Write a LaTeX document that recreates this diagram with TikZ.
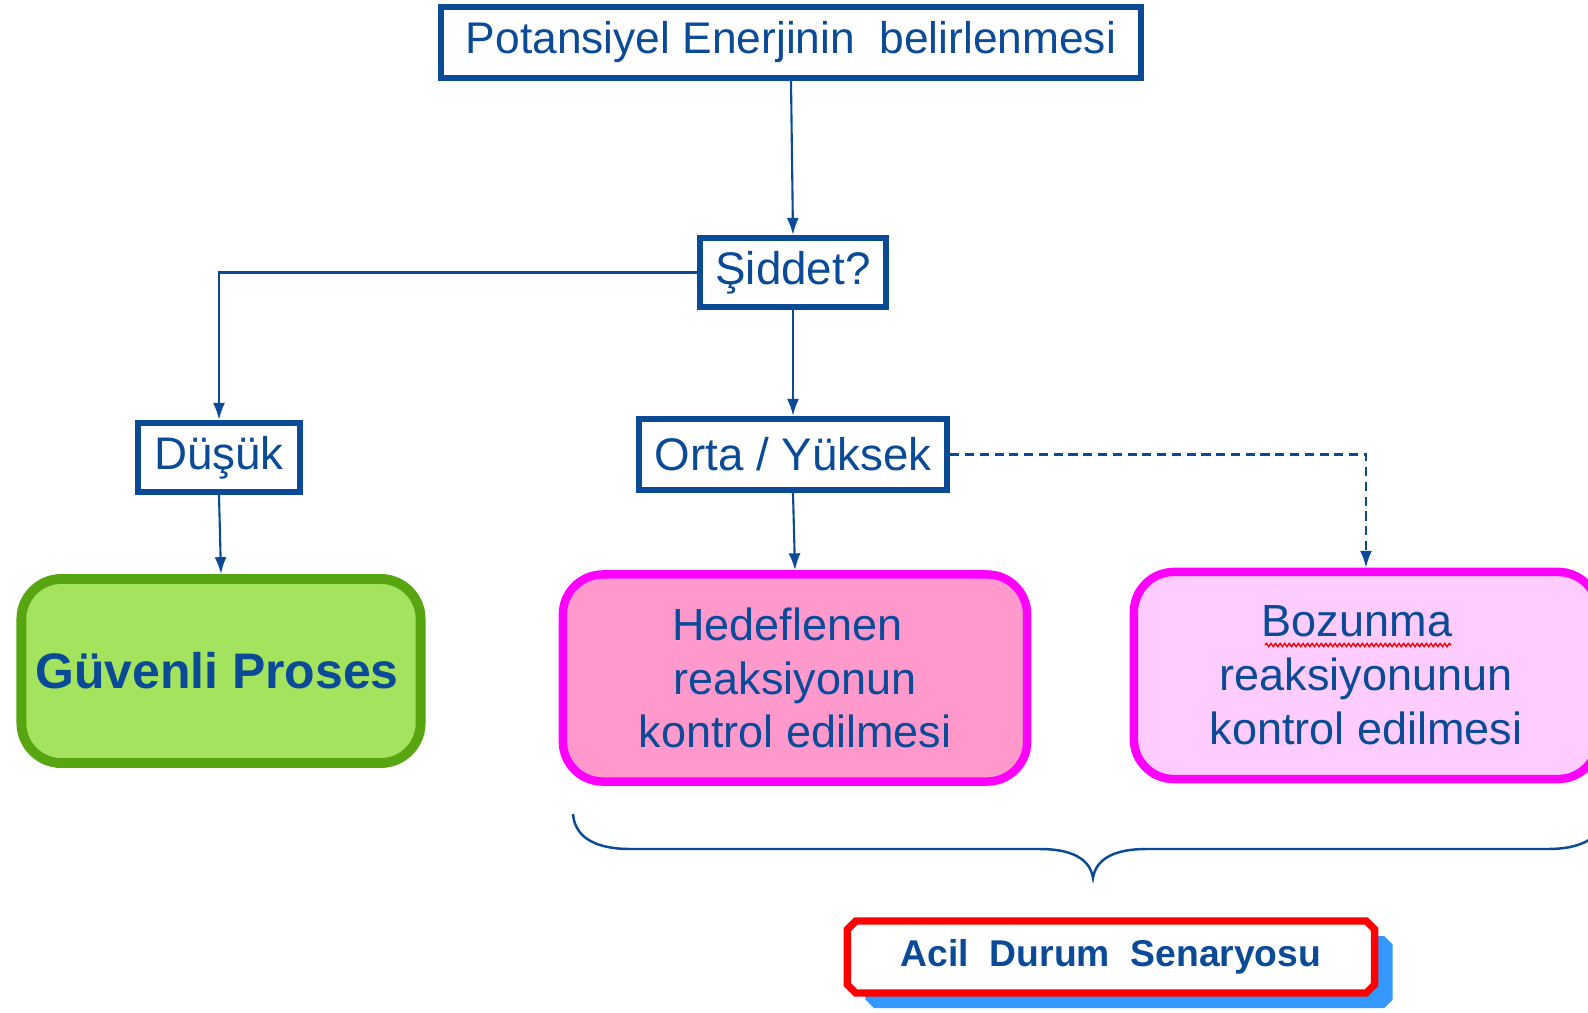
\documentclass[tikz,border=0pt]{standalone}
\usepackage{fontspec}
\setmainfont{Liberation Sans}
\usetikzlibrary{arrows.meta,shapes.misc,shadows,decorations.pathmorphing}
\definecolor{dblue}{HTML}{0A4A97}
\definecolor{gfill}{HTML}{A3E35D}
\definecolor{gline}{HTML}{58A512}
\definecolor{pfillA}{HTML}{FF99CC}
\definecolor{pfillB}{HTML}{FFCCFF}
\definecolor{magline}{HTML}{FF00FF}
\definecolor{shblue}{HTML}{3399FF}
\definecolor{redline}{HTML}{FF0000}
\tikzset{
  sqbox/.style={draw=dblue, line width=1.8pt, fill=white, text=dblue,
    font=\fontsize{13pt}{15.6pt}\selectfont, inner sep=0pt, minimum height=0.69cm},
  rbox/.style={rounded corners=0.4cm, line width=2.4pt, align=center, text=dblue,
    font=\fontsize{12.8pt}{15.3pt}\selectfont, inner sep=0pt},
  link/.style={draw=dblue, line width=0.6pt, -{Latex[length=4.8pt,width=3.4pt]}},
  dlink/.style={link, dash pattern=on 2.6pt off 1.6pt},
  bracestyle/.style={draw=dblue, line width=0.7pt},
}
\begin{document}
\begin{tikzpicture}[x=0.01cm, y=-0.01cm]
\clip (0,0) rectangle (1588,1012);
\fill[white] (0,0) rectangle (1588,1012);

\node[sqbox, minimum width=7.0cm, minimum height=0.71cm, font=\fontsize{12.6pt}{15pt}\selectfont] (top) at (791,42.5) {Potansiyel Enerjinin\ \ belirlenmesi};
\node[sqbox, minimum width=1.86cm] (sid) at (793,272.5) {Şiddet?};
\node[sqbox, minimum width=1.62cm] (dus) at (219,457.5) {Düşük};
\node[sqbox, minimum width=3.08cm, minimum height=0.71cm] (orta) at (793,454.5) {Orta / Yüksek};

\node[rbox, draw=gline, fill=gfill, line width=2.8pt, minimum width=3.99cm, minimum height=1.84cm,
      font=\bfseries\fontsize{14.2pt}{17pt}\selectfont] (guv) at (221,671) {Güvenli Proses\hspace*{0.08cm}};
\node[rbox, draw=magline, fill=pfillA, minimum width=4.64cm, minimum height=2.07cm] (hed) at (795,678)
  {Hedeflenen\hspace*{0.15cm}\\reaksiyonun\hspace*{0.27cm}\\kontrol edilmesi};
\node[rbox, draw=magline, fill=pfillB, minimum width=4.64cm, minimum height=2.07cm] (boz) at (1366,675.5)
  {Bozunma\hspace*{0.18cm}\\reaksiyonunun\hspace*{0.18cm}\\kontrol edilmesi};

\draw[redline, line width=0.4pt, decorate, decoration={snake, segment length=1.3pt, amplitude=0.45pt}]
  (1265,645) -- (1451,645);

\draw[link] (top.south) -- (sid.north);
\draw[link] (sid.west) -| (dus.north);
\draw[link] (sid.south) -- (orta.north);
\draw[dlink] (orta.east) -| (boz.north);
\draw[link] (dus.south) -- (guv.north);
\draw[link] (orta.south) -- (hed.north);

\coordinate (bl) at (573,814);
\coordinate (br) at (1605,812);
\coordinate (btip) at (1093,878);
\draw[bracestyle] (bl) .. controls (575,840) and (600,849) .. (630,849)
  -- (1040,849) .. controls (1070,849) and (1090,858) .. (btip)
  .. controls (1096,858) and (1116,849) .. (1146,849)
  -- (1548,849) .. controls (1578,849) and (1603,840) .. (br);

\node[chamfered rectangle, chamfered rectangle xsep=1.2pt, chamfered rectangle ysep=1.2pt,
      draw=redline, line width=2.1pt, fill=white, text=dblue,
      minimum width=5.27cm, minimum height=0.72cm, inner sep=0pt,
      font=\bfseries\fontsize{10.6pt}{13pt}\selectfont,
      drop shadow={shadow xshift=0.18cm, shadow yshift=-0.15cm, fill=shblue, opacity=1}]
  (acil) at (1111,957) {\raisebox{-1.2pt}{Acil\ \ Durum\ \ Senaryosu}};
\end{tikzpicture}
\end{document}
